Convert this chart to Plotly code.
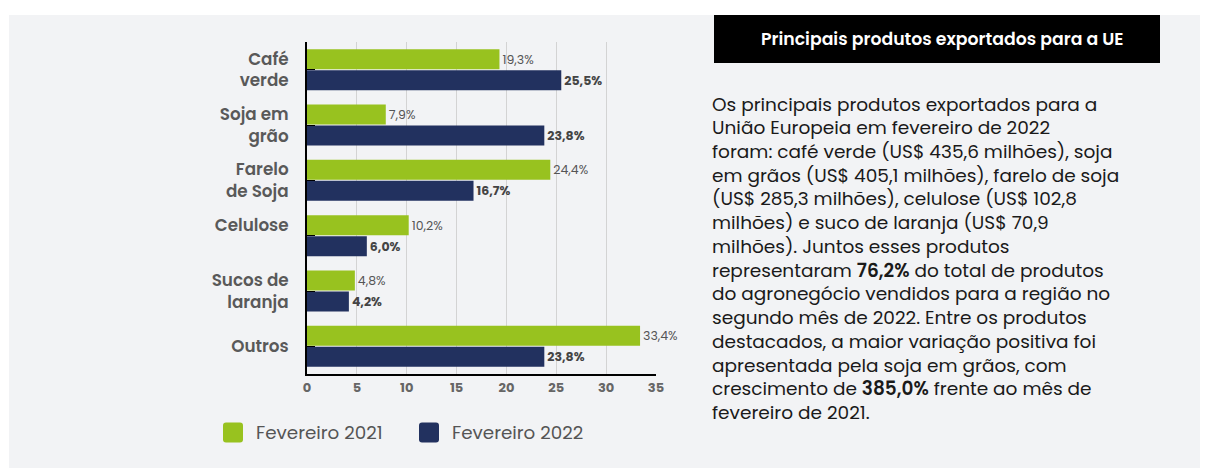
import plotly.graph_objects as go

categories = ["Café verde", "Soja em grão", "Farelo de Soja", "Celulose", "Sucos de laranja", "Outros"]
category_ticktext = ["Café<br>verde", "Soja em<br>grão", "Farelo<br>de Soja", "Celulose<br> ", "Sucos de<br>laranja", "Outros"]
fev_2021 = [19.3, 7.9, 24.4, 10.2, 4.8, 33.4]
fev_2022 = [25.5, 23.8, 16.7, 6.0, 4.2, 23.8]
series_names = ["Fevereiro 2021", "Fevereiro 2022"]
x_ticks = [0, 5, 10, 15, 20, 25, 30, 35]

title_box = "Principais produtos exportados para a UE"
SB = "<span style='font-weight:600'>"
body_lines = [
    "Os principais produtos exportados para a",
    "União Europeia em fevereiro de 2022",
    "foram: café verde (US$ 435,6 milhões), soja",
    "em grãos (US$ 405,1 milhões), farelo de soja",
    "(US$ 285,3 milhões), celulose (US$ 102,8",
    "milhões) e suco de laranja (US$ 70,9",
    "milhões). Juntos esses produtos",
    f"representaram {SB}76,2%</span> do total de produtos",
    "do agronegócio vendidos para a região no",
    "segundo mês de 2022. Entre os produtos",
    "destacados, a maior variação positiva foi",
    "apresentada pela soja em grãos, com",
    f"crescimento de {SB}385,0%</span> frente ao mês de",
    "fevereiro de 2021.",
]

GREEN = "#98c21f"
NAVY = "#22315f"
BG = "#f2f3f5"
FONT = "Poppins, Open Sans, sans-serif"

OFF = 8  # page body margin
W, H = 1200, 460
L_S, R_S, T_S, B_S = 307, 656, 42, 373.6
L, R, T, B = L_S - OFF, R_S - OFF, T_S - OFF, B_S - OFF


def fx(px):
    return (px - OFF - L) / (R - L)


def fy(py):
    return (B - (py - OFF)) / (B - T)


def fmt(v):
    return f"{v:.1f}".replace(".", ",") + "%"


fig = go.Figure()
fig.add_trace(go.Bar(
    y=categories, x=fev_2021, orientation="h", name=series_names[0],
    marker=dict(color=GREEN, line=dict(width=0)),
    text=[fmt(v) for v in fev_2021], textposition="outside",
    textfont=dict(family=FONT, size=12.5, color="#555555"),
    cliponaxis=False,
))
fig.add_trace(go.Bar(
    y=categories, x=fev_2022, orientation="h", name=series_names[1],
    marker=dict(color=NAVY, line=dict(width=0)),
    text=[f"<b>{fmt(v)}</b>" for v in fev_2022], textposition="outside",
    textfont=dict(family=FONT, size=12.5, color="#444444"),
    cliponaxis=False,
))

shapes = []
shapes.append(dict(type="rect", xref="paper", yref="paper", layer="below",
                   x0=fx(9), x1=fx(1215), y0=fy(15), y1=fy(475),
                   fillcolor=BG, line=dict(width=0)))
shapes.append(dict(type="rect", xref="paper", yref="paper", layer="above",
                   x0=fx(714), x1=fx(1160), y0=fy(15), y1=fy(63),
                   fillcolor="#000000", line=dict(width=0)))


def rounded(x0, y0, x1, y1, r=3):
    X0, X1 = fx(x0), fx(x1)
    Y0, Y1 = fy(y0), fy(y1)
    rx = r / (R - L)
    ry = r / (B - T)
    return (f"M {X0+rx},{Y0} L {X1-rx},{Y0} Q {X1},{Y0} {X1},{Y0-ry} "
            f"L {X1},{Y1+ry} Q {X1},{Y1} {X1-rx},{Y1} L {X0+rx},{Y1} "
            f"Q {X0},{Y1} {X0},{Y1+ry} L {X0},{Y0-ry} Q {X0},{Y0} {X0+rx},{Y0} Z")


legend_items = [(223, GREEN, series_names[0]), (419, NAVY, series_names[1])]
annotations = []
for lx, col, name in legend_items:
    shapes.append(dict(type="path", xref="paper", yref="paper",
                       path=rounded(lx, 422, lx + 20, 442), fillcolor=col,
                       line=dict(width=0)))
    annotations.append(dict(xref="paper", yref="paper", x=fx(lx + 31), y=fy(432),
                            xanchor="left", yanchor="middle", showarrow=False,
                            text=name, font=dict(family=FONT, size=18.3, color="#555555")))

annotations.append(dict(xref="paper", yref="paper", x=fx(942), y=fy(39),
                        xanchor="center", yanchor="middle", showarrow=False,
                        text=title_box,
                        font=dict(family=FONT, size=17.3, color="#ffffff", weight=600)))

for i, line in enumerate(body_lines):
    annotations.append(dict(xref="paper", yref="paper", x=fx(710), y=fy(104 + i * 23.7),
                            xanchor="left", yanchor="middle", showarrow=False, align="left",
                            text=line,
                            font=dict(family=FONT, size=18.5, color="#1a1a1a")))

fig.update_layout(
    width=W, height=H,
    margin=dict(l=L, r=W - R, t=T, b=H - B, pad=0),
    paper_bgcolor="#ffffff", plot_bgcolor=BG,
    barmode="group", bargap=0.24, bargroupgap=0.05,
    showlegend=False,
    shapes=shapes, annotations=annotations,
    font=dict(family=FONT),
)
fig.update_xaxes(
    range=[0, 35], tickvals=x_ticks, ticktext=[f"<b>{v}</b>" for v in x_ticks],
    showgrid=True, gridcolor="#d3d3d3", gridwidth=1,
    showline=True, linecolor="#000000", linewidth=2,
    zeroline=False, ticks="", ticklabelstandoff=0,
    tickfont=dict(family=FONT, size=13, color="#666666"),
    fixedrange=True,
)
fig.update_yaxes(
    autorange="reversed", showgrid=False,
    showline=True, linecolor="#000000", linewidth=2,
    ticks="inside", ticklen=8, tickcolor="#000000", tickwidth=1,
    ticklabelstandoff=13,
    tickvals=categories, ticktext=category_ticktext,
    tickfont=dict(family=FONT, size=16.8, color="#595959", weight=600),
    fixedrange=True,
)

fig.write_html("out.html")
